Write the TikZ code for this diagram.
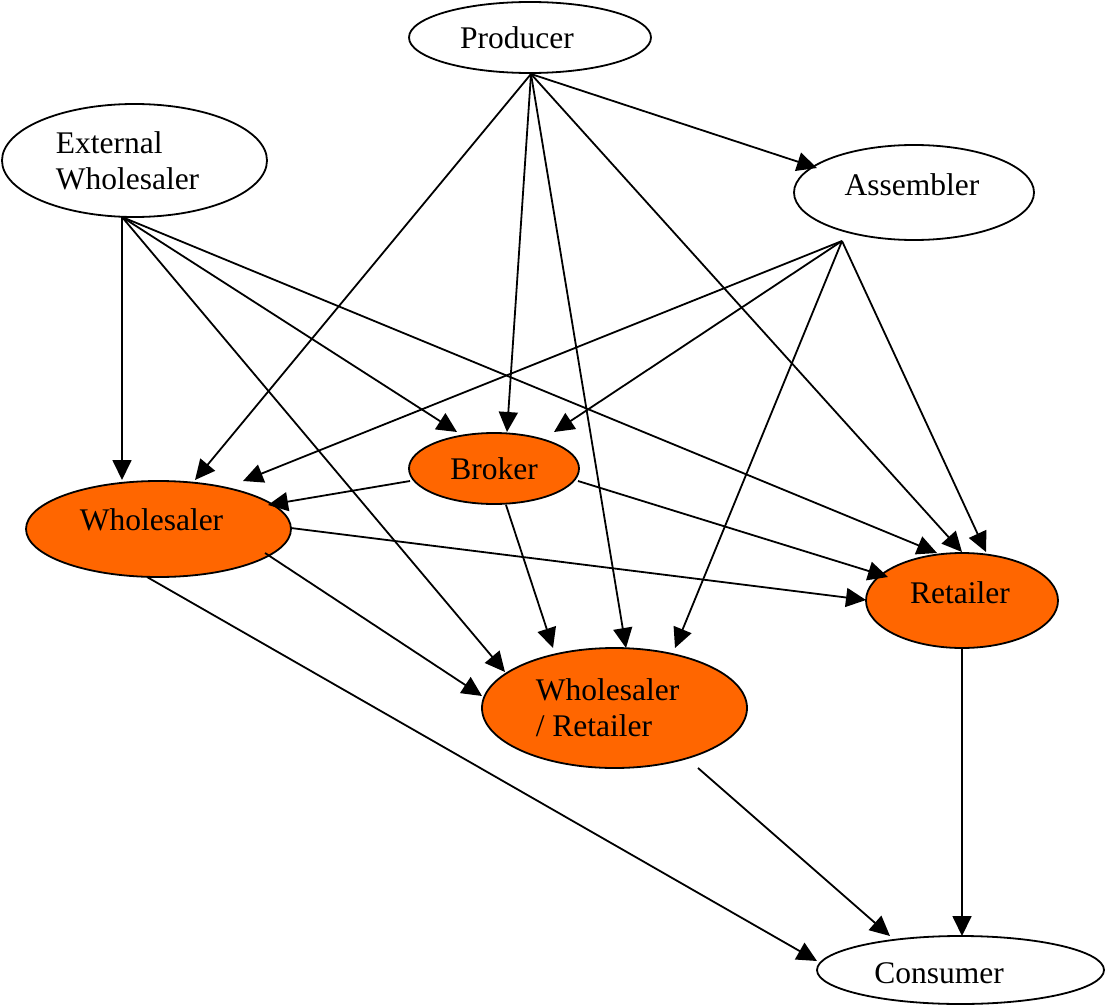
\documentclass[tikz,border=0pt]{standalone}
\usepackage{fontspec}
\setmainfont{Liberation Serif}
\usetikzlibrary{arrows.meta,shapes.geometric}
\definecolor{nodeorange}{RGB}{255,102,0}
\begin{document}
\begin{tikzpicture}[x=1pt,y=-1pt,
  ent/.style={ellipse,draw=black,line width=1.8pt,inner sep=0pt,
    font=\fontsize{31.5}{36}\selectfont},
  act/.style={ent,fill=nodeorange},
  flow/.style={line width=1.8pt,-{Triangle[length=20pt,width=19pt]}}]
\useasboundingbox (0,0) rectangle (1106,1006);

% entities
\node[ent,minimum width=242pt,minimum height=71pt] (prod) at (530,37.5) {Producer\hspace*{26pt}};
\node[ent,minimum width=265pt,minimum height=113pt,align=left] (extw) at (134.5,160.5) {External\\Wholesaler\hspace*{14pt}};
\node[ent,minimum width=240pt,minimum height=95pt,text depth=16.8pt] (asm) at (914,192.5) {Assembler\hspace*{4pt}};
\node[act,minimum width=170pt,minimum height=71pt] (brk) at (494,468.5) {Broker};
\node[act,minimum width=265pt,minimum height=96pt,text depth=18.4pt] (whl) at (158.5,529) {Wholesaler\hspace*{14pt}};
\node[act,minimum width=192pt,minimum height=95pt,text depth=16.8pt] (ret) at (962,600.5) {Retailer\hspace*{4pt}};
\node[act,minimum width=265pt,minimum height=120pt,align=left] (wr) at (614.5,708) {Wholesaler\hspace*{14pt}\\/ Retailer};
\node[ent,minimum width=287pt,minimum height=68pt,text height=26.5pt] (con) at (960.5,970) {Consumer\hspace*{43pt}};

% connector ends, relative to their nodes
\path (prod.center) ++(1,36.5) coordinate (pOut);
\path (extw.center) ++(-12.5,56.5) coordinate (eOut);
\path (asm.center) ++(-72,48.5) coordinate (aOut);
\path (asm.center) ++(-97,-24.5) coordinate (aInP);
\path (brk.center) ++(-84,12.5) coordinate (bOutW);
\path (brk.center) ++(84,12.5) coordinate (bOutR);
\path (brk.center) ++(12,36.5) coordinate (bOutWR);
\path (brk.center) ++(-37,-36.5) coordinate (bInE);
\path (brk.center) ++(13,-36.5) coordinate (bInP);
\path (brk.center) ++(60,-36.5) coordinate (bInA);
\path (whl.center) ++(132.5,-1) coordinate (wOutR);
\path (whl.center) ++(106.5,24) coordinate (wOutWR);
\path (whl.center) ++(-11.5,48) coordinate (wOutC);
\path (whl.center) ++(-36.5,-49) coordinate (wInE);
\path (whl.center) ++(36.5,-49) coordinate (wInP);
\path (whl.center) ++(84.5,-48) coordinate (wInA);
\path (whl.center) ++(109.5,-24) coordinate (wInB);
\path (ret.center) ++(0,47.5) coordinate (rOut);
\path (ret.center) ++(-25,-47.5) coordinate (rInE);
\path (ret.center) ++(0,-48.5) coordinate (rInP);
\path (ret.center) ++(24,-48.5) coordinate (rInA);
\path (ret.center) ++(-74,-23.5) coordinate (rInB);
\path (ret.center) ++(-96,-0.5) coordinate (rInW);
\path (wr.center) ++(83.5,60) coordinate (wrOut);
\path (wr.center) ++(-61.5,-60) coordinate (wrInB);
\path (wr.center) ++(11.5,-60) coordinate (wrInP);
\path (wr.center) ++(60.5,-60) coordinate (wrInA);
\path (wr.center) ++(-109.5,-36) coordinate (wrInE);
\path (wr.center) ++(-132.5,-12) coordinate (wrInW);
\path (con.center) ++(-143.5,-9) coordinate (cInW);
\path (con.center) ++(-70.5,-34) coordinate (cInWR);
\path (con.center) ++(1.5,-34) coordinate (cInR);

% from Producer
\draw[flow] (pOut) -- (wInP);
\draw[flow] (pOut) -- (bInP);
\draw[flow] (pOut) -- (wrInP);
\draw[flow] (pOut) -- (rInP);
\draw[flow] (pOut) -- (aInP);
% from External Wholesaler
\draw[flow] (eOut) -- (wInE);
\draw[flow] (eOut) -- (bInE);
\draw[flow] (eOut) -- (rInE);
\draw[flow] (eOut) -- (wrInE);
% from Assembler
\draw[flow] (aOut) -- (wInA);
\draw[flow] (aOut) -- (bInA);
\draw[flow] (aOut) -- (wrInA);
\draw[flow] (aOut) -- (rInA);
% from Broker
\draw[flow] (bOutW) -- (wInB);
\draw[flow] (bOutR) -- (rInB);
\draw[flow] (bOutWR) -- (wrInB);
% from Wholesaler
\draw[flow] (wOutR) -- (rInW);
\draw[flow] (wOutWR) -- (wrInW);
\draw[flow] (wOutC) -- (cInW);
% to Consumer
\draw[flow] (wrOut) -- (cInWR);
\draw[flow] (rOut) -- (cInR);
\end{tikzpicture}
\end{document}
